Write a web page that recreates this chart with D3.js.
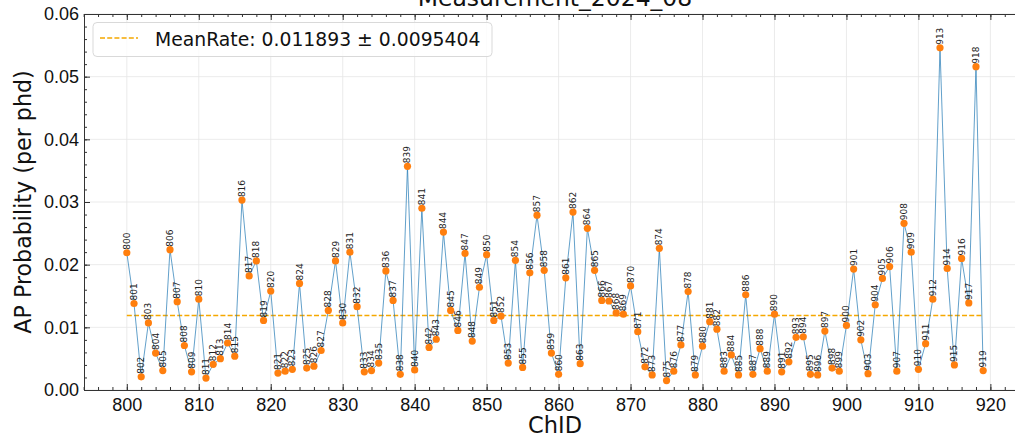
<!DOCTYPE html>
<html>
<head>
<meta charset="utf-8">
<script src="https://cdn.jsdelivr.net/npm/d3@7"></script>
<style>
  body { margin: 0; background: #fff; }
  svg { display: block; font-family: "DejaVu Sans", sans-serif; }
</style>
</head>
<body>
<svg width="1015" height="435"></svg>
<script>
// ---- data ----
const chIds = d3.range(800, 920);
const apProb = [
  0.0219, 0.0138, 0.0021, 0.0107, 0.0059, 0.0031, 0.0224, 0.0141, 0.0071, 0.0029,
  0.0145, 0.0019, 0.0041, 0.0050, 0.0075, 0.0054, 0.0303, 0.0182, 0.0206, 0.0111,
  0.0158, 0.0027, 0.0030, 0.0033, 0.0170, 0.0035, 0.0038, 0.0063, 0.0127, 0.0206,
  0.0107, 0.0220, 0.0133, 0.0029, 0.0031, 0.0043, 0.0190, 0.0143, 0.0025, 0.0357,
  0.0032, 0.0290, 0.0068, 0.0081, 0.0252, 0.0127, 0.0095, 0.0218, 0.0078, 0.0164,
  0.0216, 0.0111, 0.0118, 0.0043, 0.0207, 0.0036, 0.0187, 0.0279, 0.0191, 0.0059,
  0.0025, 0.0179, 0.0284, 0.0042, 0.0258, 0.0191, 0.0143, 0.0142, 0.0123, 0.0121,
  0.0166, 0.0093, 0.0037, 0.0024, 0.0226, 0.0015, 0.0030, 0.0072, 0.0157, 0.0024,
  0.0070, 0.0109, 0.0097, 0.0030, 0.0056, 0.0024, 0.0152, 0.0025, 0.0066, 0.0030,
  0.0121, 0.0029, 0.0045, 0.0084, 0.0085, 0.0025, 0.0024, 0.0094, 0.0035, 0.0030,
  0.0103, 0.0193, 0.0080, 0.0026, 0.0136, 0.0178, 0.0197, 0.0030, 0.0266, 0.0220,
  0.0033, 0.0074, 0.0145, 0.0546, 0.0194, 0.0040, 0.0210, 0.0139, 0.0516, 0.0031
];
const meanRate = 0.011893;
const meanErr = 0.0095404;
const title = "Measurement_2024_08";
const xTicks = d3.range(800, 921, 10);
const xMinor = d3.range(794, 926, 2);
const yTicks = [0, 0.01, 0.02, 0.03, 0.04, 0.05, 0.06];
const yMinor = d3.range(0, 0.0601, 0.002);

const points = chIds.map((id, i) => ({id, v: apProb[i]}));

const svg = d3.select("svg");
const mLeft = 84, mRight = 1026, mTop = 14, mBottom = 390;

// matplotlib style 5% x-margins
const span = d3.max(chIds) - d3.min(chIds);
const x = d3.scaleLinear()
    .domain([d3.min(chIds) - span * 0.05, d3.max(chIds) + span * 0.05])
    .range([mLeft, mRight]);
const y = d3.scaleLinear().domain([0, 0.06]).range([mBottom, mTop]);

// grid
const grid = svg.append("g").attr("stroke", "#e6e6e6").attr("stroke-width", 0.8);
grid.selectAll(".gx").data(xTicks).join("line")
    .attr("x1", d => x(d)).attr("x2", d => x(d))
    .attr("y1", mTop).attr("y2", mBottom);
grid.selectAll(".gy").data(yTicks).join("line")
    .attr("x1", mLeft).attr("x2", mRight)
    .attr("y1", d => y(d)).attr("y2", d => y(d));

// axes (ticks pointing inward)
function styleAxis(g) {
    g.selectAll("path").attr("stroke", "#333").attr("stroke-width", 1);
    g.selectAll("line").attr("stroke", "#333");
    g.selectAll("text").attr("fill", "#111");
}
svg.append("g").attr("transform", `translate(0,${mBottom})`)
    .call(d3.axisBottom(x).tickValues(xMinor).tickSize(-3).tickFormat(""))
    .call(g => g.select(".domain").remove()).call(styleAxis);
svg.append("g").attr("transform", `translate(0,${mTop})`)
    .call(d3.axisTop(x).tickValues(xMinor).tickSize(-3).tickFormat(""))
    .call(g => g.select(".domain").remove()).call(styleAxis);
svg.append("g").attr("transform", `translate(${mLeft},0)`)
    .call(d3.axisLeft(y).tickValues(yMinor).tickSize(-3).tickFormat(""))
    .call(g => g.select(".domain").remove()).call(styleAxis);

svg.append("g").attr("transform", `translate(0,${mBottom})`)
    .call(d3.axisBottom(x).tickValues(xTicks).tickSize(-6).tickSizeOuter(0).tickPadding(8).tickFormat(d3.format("d")))
    .call(styleAxis)
    .selectAll("text").attr("font-size", 18);
svg.append("g").attr("transform", `translate(0,${mTop})`)
    .call(d3.axisTop(x).tickValues(xTicks).tickSize(-6).tickSizeOuter(0).tickFormat(""))
    .call(styleAxis);
svg.append("g").attr("transform", `translate(${mLeft},0)`)
    .call(d3.axisLeft(y).tickValues(yTicks).tickSize(-6).tickSizeOuter(0).tickPadding(5).tickFormat(d3.format(".2f")))
    .call(styleAxis)
    .selectAll("text").attr("font-size", 18);

// mean line
svg.append("line")
    .attr("x1", x(d3.min(chIds))).attr("x2", x(d3.max(chIds)))
    .attr("y1", y(meanRate)).attr("y2", y(meanRate))
    .attr("stroke", "#f5a800").attr("stroke-width", 1.4)
    .attr("stroke-dasharray", "5,2.2");

// series line
svg.append("path")
    .datum(points)
    .attr("fill", "none")
    .attr("stroke", "#1f77b4")
    .attr("stroke-opacity", 0.7)
    .attr("stroke-width", 1)
    .attr("d", d3.line().x(d => x(d.id)).y(d => y(d.v)));

svg.append("g").selectAll("circle").data(points).join("circle")
    .attr("cx", d => x(d.id)).attr("cy", d => y(d.v))
    .attr("r", 3.6).attr("fill", "#ff7f0e");

svg.append("g").selectAll("text").data(points).join("text")
    .attr("transform", d => `translate(${x(d.id)},${y(d.v) - 3}) rotate(-90)`)
    .attr("text-anchor", "start")
    .attr("dominant-baseline", "central")
    .attr("font-size", 9)
    .attr("fill", "#222")
    .text(d => d.id);

// legend
const lg = svg.append("g");
lg.append("rect")
    .attr("x", 93).attr("y", 22.5).attr("width", 399).attr("height", 34)
    .attr("rx", 4).attr("fill", "#fff").attr("fill-opacity", 0.8)
    .attr("stroke", "#d9d9d9");
lg.append("line")
    .attr("x1", 100).attr("x2", 138).attr("y1", 38).attr("y2", 38)
    .attr("stroke", "#f5a800").attr("stroke-width", 1.4)
    .attr("stroke-dasharray", "5,2.2");
lg.append("text")
    .attr("x", 155).attr("y", 45.5)
    .attr("font-size", 18.8).attr("fill", "#111")
    .text(`MeanRate: ${meanRate} \u00b1 ${meanErr}`);

// titles
svg.append("text")
    .attr("x", (mLeft + mRight) / 2).attr("y", 6)
    .attr("text-anchor", "middle").attr("font-size", 23.5).attr("fill", "#111")
    .text(title);
svg.append("text")
    .attr("x", (mLeft + mRight) / 2).attr("y", 433)
    .attr("text-anchor", "middle").attr("font-size", 22.5).attr("fill", "#111")
    .text("ChID");
svg.append("text")
    .attr("transform", `translate(31,${(mTop + mBottom) / 2}) rotate(-90)`)
    .attr("text-anchor", "middle").attr("font-size", 22.2).attr("fill", "#111")
    .text("AP Probability (per phd)");
</script>
</body>
</html>
